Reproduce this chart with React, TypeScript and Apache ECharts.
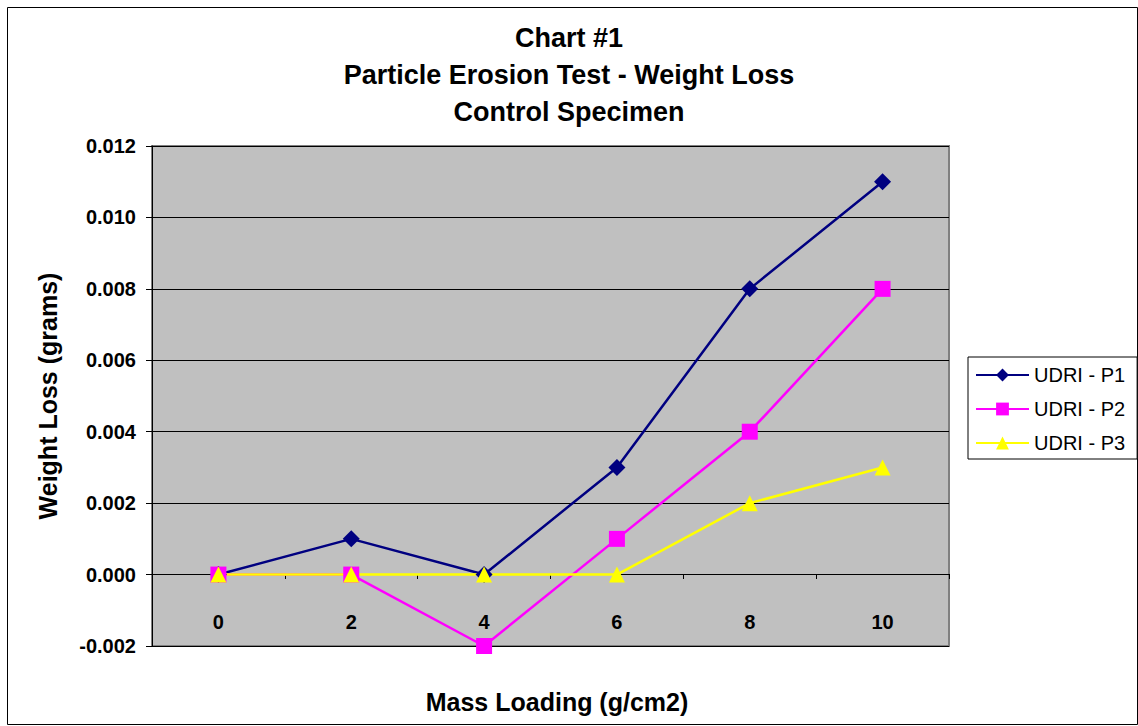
import React, { useEffect, useRef } from "react";
import * as echarts from "echarts";

const categories = ["0", "2", "4", "6", "8", "10"];
const seriesNames = ["UDRI - P1", "UDRI - P2", "UDRI - P3"];
const p1 = [0, 0.001, 0, 0.003, 0.008, 0.011];
const p2 = [0, 0, -0.002, 0.001, 0.004, 0.008];
const p3 = [0, 0, 0, 0, 0.002, 0.003];
const titleLines = ["Chart #1", "Particle Erosion Test - Weight Loss", "Control Specimen"];
const xTitle = "Mass Loading (g/cm2)";
const yTitle = "Weight Loss (grams)";

const FONT = "'Liberation Sans', Arial, sans-serif";

export default function App() {
  const ref = useRef<HTMLDivElement>(null);
  useEffect(() => {
    if (!ref.current) return;
    const chart = echarts.init(ref.current, null, { renderer: "svg" });
    const mk = (name: string, data: number[], color: string, symbol: string, size: number) => ({
      name,
      type: "line",
      data,
      symbol,
      symbolSize: size,
      itemStyle: { color },
      lineStyle: { color, width: 2.5 },
    });
    chart.setOption({
      animation: false,
      backgroundColor: "#ffffff",
      textStyle: { fontFamily: FONT },
      title: {
        text: titleLines.join("\n"),
        left: "center",
        top: 14,
        textStyle: { fontFamily: FONT, fontWeight: "bold", fontSize: 27, lineHeight: 37, color: "#000" },
      },
      legend: {
        orient: "vertical",
        left: 968,
        top: 357,
        padding: [8, 12, 6, 7],
        itemWidth: 53,
        itemHeight: 16,
        itemGap: 14,
        backgroundColor: "#ffffff",
        borderColor: "#000000",
        borderWidth: 1,
        borderRadius: 0,
        textStyle: { fontFamily: FONT, fontSize: 20, lineHeight: 20, color: "#000" },
        data: seriesNames,
      },
      grid: {
        left: 152,
        right: 189,
        top: 146,
        bottom: 80,
        show: true,
        backgroundColor: "#C0C0C0",
        borderColor: "#808080",
        borderWidth: 2,
      },
      xAxis: {
        type: "category",
        data: categories,
        boundaryGap: true,
        position: "bottom",
        offset: -72,
        axisLine: { show: true, onZero: false, lineStyle: { color: "#000", width: 1 } },
        axisTick: { show: true, length: 5, lineStyle: { color: "#000" } },
        axisLabel: { margin: 38, fontFamily: FONT, fontWeight: "bold", fontSize: 20, color: "#000" },
        splitLine: { show: false },
      },
      yAxis: {
        type: "value",
        min: -0.002,
        max: 0.012,
        interval: 0.002,
        name: yTitle,
        nameLocation: "middle",
        nameRotate: 90,
        nameGap: 92,
        nameTextStyle: { fontFamily: FONT, fontWeight: "bold", fontSize: 25, color: "#000" },
        axisLine: { show: true, lineStyle: { color: "#000", width: 1 } },
        axisTick: { show: true, length: 6, lineStyle: { color: "#000" } },
        axisLabel: {
          margin: 16,
          fontFamily: FONT,
          fontWeight: "bold",
          fontSize: 20,
          color: "#000",
          formatter: (v: number) => v.toFixed(3),
        },
        splitLine: { show: true, lineStyle: { color: "#000", width: 1 } },
      },
      graphic: [
        {
          type: "rect",
          shape: { x: 7.5, y: 7.5, width: 1130, height: 717 },
          style: { fill: "none", stroke: "#000", lineWidth: 1 },
          silent: true,
          z: -1,
        },
        {
          type: "text",
          x: 557,
          y: 702,
          style: {
            text: xTitle,
            textAlign: "center",
            textVerticalAlign: "middle",
            font: `bold 25px ${FONT}`,
            fill: "#000",
          },
        },
      ],
      series: [
        mk(seriesNames[0], p1, "#000080", "diamond", 17),
        mk(seriesNames[1], p2, "#FF00FF", "rect", 16),
        mk(seriesNames[2], p3, "#FFFF00", "triangle", 16),
      ],
    });
    return () => chart.dispose();
  }, []);
  return (
    <div
      ref={ref}
      style={{ position: "fixed", left: 0, top: 0, width: 1138, height: 726 }}
    />
  );
}
